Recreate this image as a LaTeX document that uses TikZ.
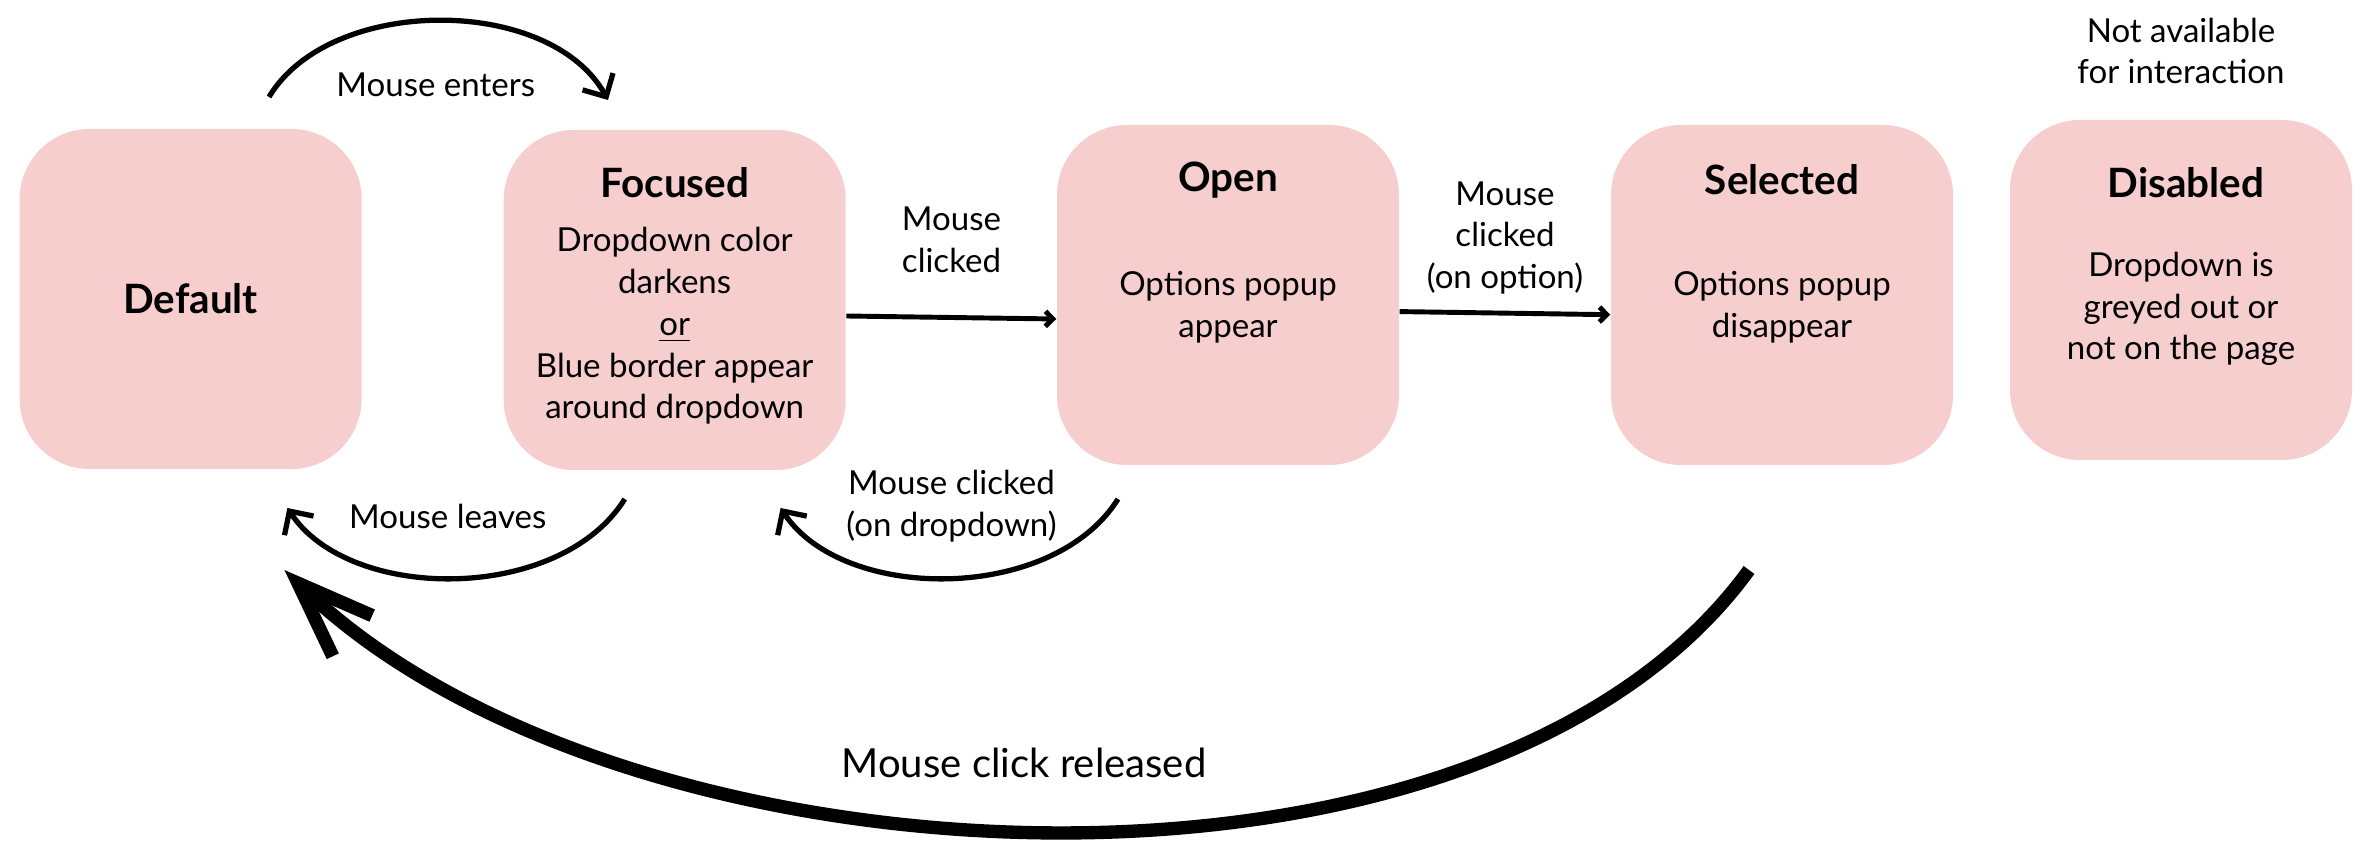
\documentclass[tikz,border=0pt]{standalone}
\usepackage{fontspec}
\setmainfont{Lato}
\usepackage{tikz}
\usetikzlibrary{arrows.meta, positioning}
\definecolor{statepink}{RGB}{246,206,206}

\begin{document}
\begin{tikzpicture}[
    state/.style={fill=statepink, minimum width=3.42cm, minimum height=3.40cm, rounded corners=0.7cm, inner sep=0pt},
    title/.style={font=\fontsize{11.5}{13}\selectfont\bfseries},
    desc/.style={align=center, font=\fontsize{9.4}{11.9}\selectfont},
    event/.style={align=center, font=\fontsize{9.4}{11.9}\selectfont},
    arrow/.style={-{Straight Barb[angle=90:3pt]}, line width=1.4pt},
    loop/.style={-{Straight Barb[angle=90:7pt]}, line width=1.5pt},
    bigloop/.style={-{Straight Barb[angle=41:23pt]}, line width=3.8pt}
]
    \useasboundingbox (0,0) rectangle (23.72,-8.58);

    % States
    \node[state, title] (default) at (1.906,-2.99) {Default};
    \node[state] (focused) at (6.747,-3.00) {};
    \node[state] (open) at (12.28,-2.95) {};
    \node[state] (selected) at (17.82,-2.95) {};
    \node[state] (disabled) at (21.81,-2.90) {};

    % State texts
    \node[title] (focusedtitle) at (6.747,-1.83) {Focused};
    \node[desc] (focuseddesc) at (6.747,-3.26) {Dropdown color\\darkens\\\underline{or}\\Blue border appear\\around dropdown};
    \node[title] (opentitle) at (12.28,-1.80) {Open};
    \node[desc] (opendesc) at (12.28,-3.07) {Options popup\\appear};
    \node[title] (selectedtitle) at (17.82,-1.80) {Selected};
    \node[desc] (selecteddesc) at (17.82,-3.07) {Options popup\\disappear};
    \node[title] (disabledtitle) at (21.86,-1.83) {Disabled};
    \node[desc] (disableddesc) at (21.81,-3.09) {Dropdown is\\greyed out or\\not on the page};
    \node[desc] (disablednote) at (21.81,-0.51) {Not available\\for interaction};

    % Transitions
    \draw[arrow] ([yshift=-0.16cm]focused.east) -- ([yshift=-0.24cm]open.west);
    \draw[arrow] ([yshift=-0.166cm]open.east) -- ([yshift=-0.197cm]selected.west);

    \coordinate (enterfrom) at (2.69,-0.97);
    \coordinate (enterto) at (6.08,-1.00);
    \draw[loop] (enterfrom) .. controls (3.30,0.05) and (5.50,0.05) .. (enterto);

    \coordinate (leavefrom) at (6.248,-4.99);
    \coordinate (leaveto) at (2.874,-5.08);
    \draw[loop] (leavefrom) .. controls (5.60,-6.03) and (3.50,-6.03) .. (leaveto);

    \coordinate (closefrom) at (11.18,-4.99);
    \coordinate (closeto) at (7.806,-5.08);
    \draw[loop] (closefrom) .. controls (10.53,-6.03) and (8.43,-6.03) .. (closeto);

    \coordinate (releasefrom) at (17.49,-5.70);
    \coordinate (releaseto) at (2.844,-5.70);
    \draw[bigloop] (releasefrom) .. controls (14.80,-9.40) and (6.20,-8.95) .. (releaseto);

    % Events
    \node[event] (enters) at (4.357,-0.85) {Mouse enters};
    \node[event] (clicked) at (9.515,-2.40) {Mouse\\clicked};
    \node[event] (clickedoption) at (15.05,-2.38) {Mouse\\clicked\\(on option)};
    \node[event] (leaves) at (4.478,-5.16) {Mouse leaves};
    \node[event] (clickeddropdown) at (9.515,-5.06) {Mouse clicked\\(on dropdown)};
    \node[event, font=\fontsize{11.4}{13}\selectfont] (released) at (10.24,-7.63) {Mouse click released};
\end{tikzpicture}
\end{document}
